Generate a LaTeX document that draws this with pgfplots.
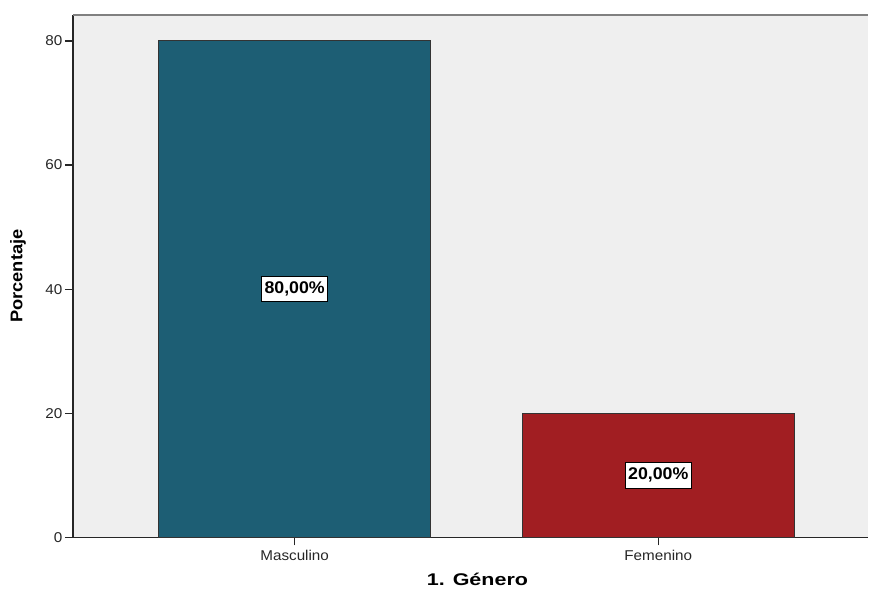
\documentclass[border=0pt]{standalone}
\usepackage{pgfplots}
\pgfplotsset{compat=1.18}
\usepackage{fontspec}
\setmainfont{Liberation Sans}
\newfontfamily\xlabfont[FakeStretch=1.27]{Liberation Sans}
\newfontfamily\ylabfont[FakeStretch=1.08]{Liberation Sans}
\newfontfamily\tickfont[FakeStretch=1.07]{Liberation Sans}
\newfontfamily\datfont[FakeStretch=1.05]{Liberation Sans}
\definecolor{barteal}{HTML}{1D5E74}
\definecolor{barred}{HTML}{A11E22}
\definecolor{bgcol}{HTML}{EFEFEF}
\begin{document}
\begin{tikzpicture}
\begin{axis}[
  name=ax,
  scale only axis,
  width=796bp, height=523bp,
  xmin=-0.6099, xmax=1.5769,
  ymin=0, ymax=84.19,
  enlargelimits=false,
  axis x line*=bottom,
  axis y line*=left,
  axis line style={draw=black!85, line width=1.3bp},
  axis background/.style={fill=bgcol},
  xtick={0,1}, xticklabels={Masculino,Femenino},
  ytick={0,20,40,60,80},
  tick align=outside,
  major tick length=8bp,
  tick style={black!85, line width=1.2bp},
  /pgf/number format/assume math mode=true,
  ticklabel style={font=\tickfont\fontsize{14.3}{16}\selectfont, text=black!85},
  xticklabel style={yshift=-1bp},
  yticklabel style={xshift=1bp},
  xlabel={1. Género},
  ylabel={Porcentaje},
  every axis x label/.style={at={(axis description cs:0.5088,-0.0803)}, anchor=center, font=\xlabfont\fontsize{17}{19}\selectfont\bfseries},
  every axis y label/.style={at={(axis description cs:-0.0691,0.5)}, rotate=90, anchor=center, font=\ylabfont\fontsize{17}{19}\selectfont\bfseries},
  clip=false,
]
\addplot[ybar, bar width=272bp, bar shift=0pt, fill=barteal, draw=black!80, line width=1bp] coordinates {(0,80)};
\addplot[ybar, bar width=272bp, bar shift=0pt, fill=barred, draw=black!80, line width=1bp] coordinates {(1,20)};
\addplot[draw=none, mark=none, nodes near coords, point meta=explicit symbolic,
  every node near coord/.style={anchor=center, fill=white, draw=black, line width=0.9bp,
    inner xsep=3bp, inner ysep=5.5bp, font=\datfont\fontsize{17}{19}\selectfont\bfseries, text=black}]
  coordinates {(0,40)[80,00\%] (1,10)[20,00\%]};
\draw[color=black!50, line width=2bp] (rel axis cs:0,1) -- (rel axis cs:1,1);
\end{axis}
\path ([shift={(-73bp,-55bp)}]ax.south west) rectangle ([shift={(0bp,15bp)}]ax.north east);
\end{tikzpicture}
\end{document}
